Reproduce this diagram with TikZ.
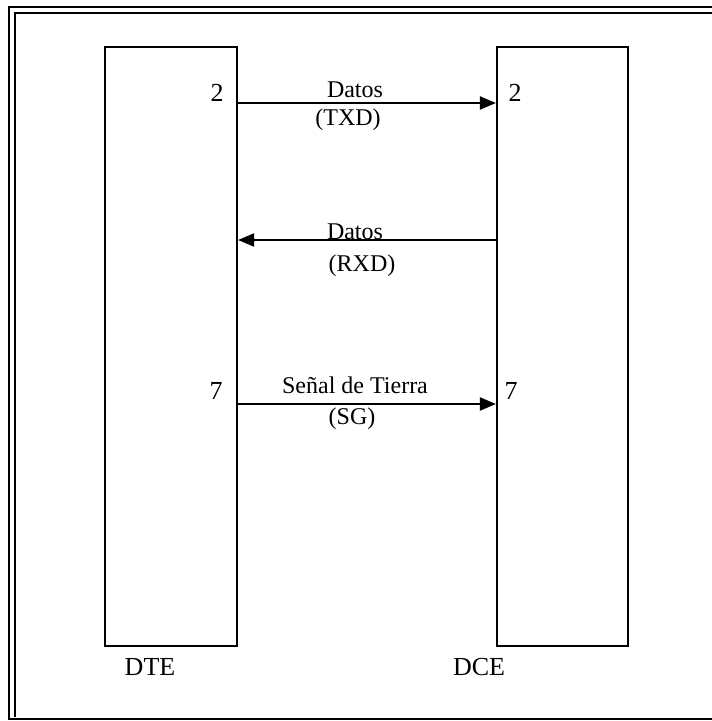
\documentclass[tikz,border=0pt]{standalone}
\usepackage{fontspec}
\setmainfont{Liberation Serif}
\usetikzlibrary{arrows.meta}
\begin{document}
\begin{tikzpicture}[x=1pt,y=-1pt,
  frame/.style={line width=2.3pt},
  devbox/.style={draw,line width=2.2pt,minimum height=599pt,inner sep=0pt},
  sig/.style={line width=2.2pt,-{Triangle[length=16pt,width=13pt]}},
  lbl/.style={anchor=base,inner sep=0pt,font=\fontsize{24}{26}\selectfont},
  pin/.style={anchor=base,inner sep=0pt,font=\fontsize{26}{28}\selectfont},
  dev/.style={anchor=base,inner sep=0pt,font=\fontsize{26}{28}\selectfont}]
\useasboundingbox (0,0) rectangle (712,721);
% frame
\draw[frame] (712,7) -- (9,7) -- (9,720);
\draw[frame] (712,13) -- (15,13) -- (15,717);
\draw[frame] (9,719) -- (712,719);
% devices
\node[devbox,minimum width=132pt] (dte) at (171,346.5) {};
\node[devbox,minimum width=131pt] (dce) at (562.5,346.5) {};
% signal anchors
\coordinate (t1) at (0,103);
\coordinate (t2) at (0,240);
\coordinate (t3) at (0,404);
\draw[sig] (dte.east |- t1) -- (dce.west |- t1);
\draw[sig] (dce.west |- t2) -- (dte.east |- t2);
\draw[sig] (dte.east |- t3) -- (dce.west |- t3);
% labels
\node[lbl] (l1a) at (355,97) {Datos};
\node[lbl] (l1b) at (348,125) {(TXD)};
\node[lbl] (l2a) at (355,239) {Datos};
\node[lbl] (l2b) at (362,271) {(RXD)};
\node[lbl] (l3a) at (355,393) {Señal de Tierra};
\node[lbl] (l3b) at (352,424) {(SG)};
% pins
\node[pin] (p2l) at (217,101) {2};
\node[pin] (p2r) at (515,101) {2};
\node[pin] (p7l) at (216,399) {7};
\node[pin] (p7r) at (511,399) {7};
% device names
\node[dev] (ndte) at (150,675) {DTE};
\node[dev] (ndce) at (479,675) {DCE};
\end{tikzpicture}
\end{document}
